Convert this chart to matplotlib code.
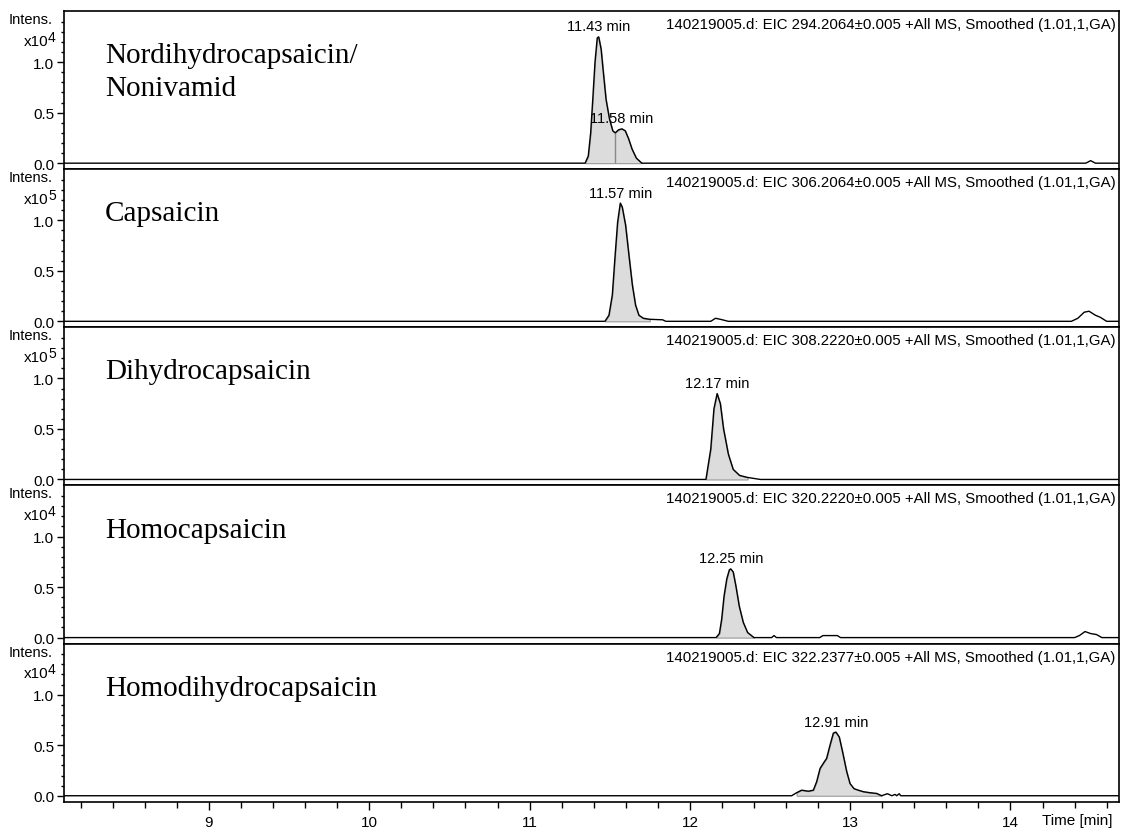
import numpy as np
import matplotlib.pyplot as plt
from matplotlib.ticker import MultipleLocator

plt.rcParams['font.family'] = ['Liberation Sans', 'DejaVu Sans']

# compound names, header lines and scale exponents, one per trace
names = [["Nordihydrocapsaicin/", "Nonivamid"], ["Capsaicin"], ["Dihydrocapsaicin"],
         ["Homocapsaicin"], ["Homodihydrocapsaicin"]]
masses = ["294.2064", "306.2064", "308.2220", "320.2220", "322.2377"]
exponents = [4, 5, 5, 4, 4]

# EIC traces: time [min], intensity (in units of 10^exp)
t1 = [8.09, 11.346, 11.366, 11.381, 11.394, 11.408, 11.422, 11.431, 11.446, 11.46,
      11.477, 11.498, 11.519, 11.534, 11.555, 11.576, 11.597, 11.618, 11.639, 11.666,
      11.70, 14.47, 14.50, 14.53, 14.69]
i1 = [0, 0, 0.07, 0.30, 0.63, 1.0, 1.24, 1.25, 1.13, 0.90,
      0.63, 0.44, 0.32, 0.30, 0.33, 0.34, 0.32, 0.24, 0.14, 0.05,
      0, 0, 0.025, 0, 0]

t2 = [8.09, 11.47, 11.495, 11.516, 11.532, 11.549, 11.566, 11.578, 11.599, 11.62,
      11.641, 11.661, 11.682, 11.71, 11.75, 11.83, 11.85, 12.13, 12.16, 12.19, 12.24,
      14.38, 14.42, 14.46, 14.49, 14.53, 14.56, 14.60, 14.69]
i2 = [0, 0, 0.06, 0.26, 0.62, 0.98, 1.17, 1.13, 0.95, 0.65,
      0.36, 0.16, 0.06, 0.03, 0.02, 0.015, 0, 0, 0.03, 0.02, 0,
      0, 0.03, 0.09, 0.10, 0.06, 0.04, 0, 0]

t3 = [8.09, 12.10, 12.13, 12.15, 12.17, 12.19, 12.21, 12.24, 12.27, 12.31, 12.36,
      12.44, 14.69]
i3 = [0, 0, 0.30, 0.70, 0.85, 0.75, 0.50, 0.25, 0.10, 0.04, 0.02,
      0, 0]

t4 = [8.09, 12.163, 12.184, 12.198, 12.213, 12.23, 12.246, 12.255, 12.27, 12.287,
      12.308, 12.333, 12.36, 12.40, 12.51, 12.525, 12.54, 12.81, 12.83, 12.92, 12.94,
      14.40, 14.43, 14.465, 14.50, 14.537, 14.57, 14.69]
i4 = [0, 0, 0.04, 0.18, 0.41, 0.58, 0.67, 0.68, 0.65, 0.51,
      0.31, 0.15, 0.05, 0, 0, 0.02, 0, 0, 0.02, 0.02, 0,
      0, 0.02, 0.06, 0.04, 0.03, 0, 0]

t5 = [8.09, 12.635, 12.666, 12.697, 12.739, 12.77, 12.791, 12.812, 12.832, 12.853,
      12.874, 12.895, 12.911, 12.932, 12.953, 12.978, 12.999, 13.024, 13.051, 13.082,
      13.124, 13.165, 13.196, 13.232, 13.26, 13.28, 13.29, 13.306, 13.315, 14.69]
i5 = [0, 0, 0.03, 0.055, 0.045, 0.055, 0.14, 0.27, 0.32, 0.37,
      0.50, 0.62, 0.63, 0.58, 0.43, 0.24, 0.12, 0.07, 0.055, 0.04,
      0.03, 0.023, 0, 0.02, 0, 0.013, 0, 0.02, 0, 0]

times = [t1, t2, t3, t4, t5]
intens = [i1, i2, i3, i4, i5]

# integrated regions and labelled peaks
areas = [(11.346, 11.70), (11.47, 11.75), (11.10, 12.40), (12.163, 12.40), (12.666, 13.196)]
splits = [[11.534], [], [], [], []]
peaks = [[11.431, 11.576], [11.566], [12.17], [12.255], [12.911]]
peak_labels = [["11.43 min", "11.58 min"], ["11.57 min"], ["12.17 min"], ["12.25 min"], ["12.91 min"]]

W, H = 1121, 829
fig = plt.figure(figsize=(W / 100, H / 100), dpi=100)

left, right = 64, 1119
top, bottom = 12, 802.7
ph = (bottom - top) / 5

axes = []
for k in range(5):
    y0 = top + k * ph
    ax = fig.add_axes([left / W, 1 - (y0 + ph) / H, (right - left) / W, ph / H])
    axes.append(ax)

    t = np.array(times[k])
    y = np.array(intens[k])
    a, b = areas[k]
    m = (t >= a) & (t <= b)
    ax.fill_between(t[m], y[m], 0, facecolor='#dcdcdc', edgecolor='#999999', lw=0.8)
    for s in splits[k]:
        ax.vlines(s, 0, np.interp(s, t, y), color='#888888', lw=1.0)
    ax.plot(t, y, color='black', lw=1.0)

    for pt, lab in zip(peaks[k], peak_labels[k]):
        ax.annotate(lab, (pt, np.interp(pt, t, y)), xytext=(0, 2.5), textcoords='offset points',
                    ha='center', va='bottom', fontsize=10.5)

    ax.set_xlim(8.0955, 14.677)
    ax.set_ylim(-0.059, 1.506)
    ax.set_yticks([0, 0.5, 1.0])
    ax.set_yticks(np.arange(0, 1.45, 0.1), minor=True)
    ax.set_yticklabels(["0.0", "0.5", "1.0"])
    ax.tick_params(axis='y', which='major', direction='out', length=5, width=1, labelsize=11, pad=2)
    ax.tick_params(axis='y', which='minor', direction='out', length=2.3, width=1)
    for sp in ax.spines.values():
        sp.set_linewidth(1.2)

    ax.text(0.997, 1 - 13 / ph, "140219005.d: EIC " + masses[k] + "\u00b10.005 +All MS, Smoothed (1.01,1,GA)",
            transform=ax.transAxes, ha='right', va='center', fontsize=10.8)

    lines = names[k]
    for j, ln in enumerate(lines):
        ax.text(0.0389, 1.0 - j * 0.327, ln, transform=ax.get_yaxis_transform(),
                ha='left', va='baseline', family='Liberation Serif', fontsize=21)

    # "Intens." and "x10^n" scale note left of the axis
    ax.text(53 / W, 1 - (y0 + 8) / H, "Intens.", transform=fig.transFigure,
            ha='right', va='center', fontsize=10.5)
    ax.text(48.5 / W, 1 - (y0 + 33.5) / H, "x10", transform=fig.transFigure,
            ha='right', va='baseline', fontsize=11)
    ax.text(48 / W, 1 - (y0 + 29.5) / H, str(exponents[k]), transform=fig.transFigure,
            ha='left', va='baseline', fontsize=10)

    if k < 4:
        ax.tick_params(axis='x', which='both', bottom=False, labelbottom=False)

axb = axes[-1]
axb.set_xticks([9, 10, 11, 12, 13, 14])
axb.xaxis.set_minor_locator(MultipleLocator(0.2))
axb.tick_params(axis='x', which='major', direction='out', length=5.5, width=1, labelsize=11, pad=4)
axb.tick_params(axis='x', which='minor', direction='out', length=4, width=1)
fig.text(1112 / W, 1 - 821 / H, "Time [min]", ha='right', va='center', fontsize=11)

fig.savefig("out.png", dpi=100)
